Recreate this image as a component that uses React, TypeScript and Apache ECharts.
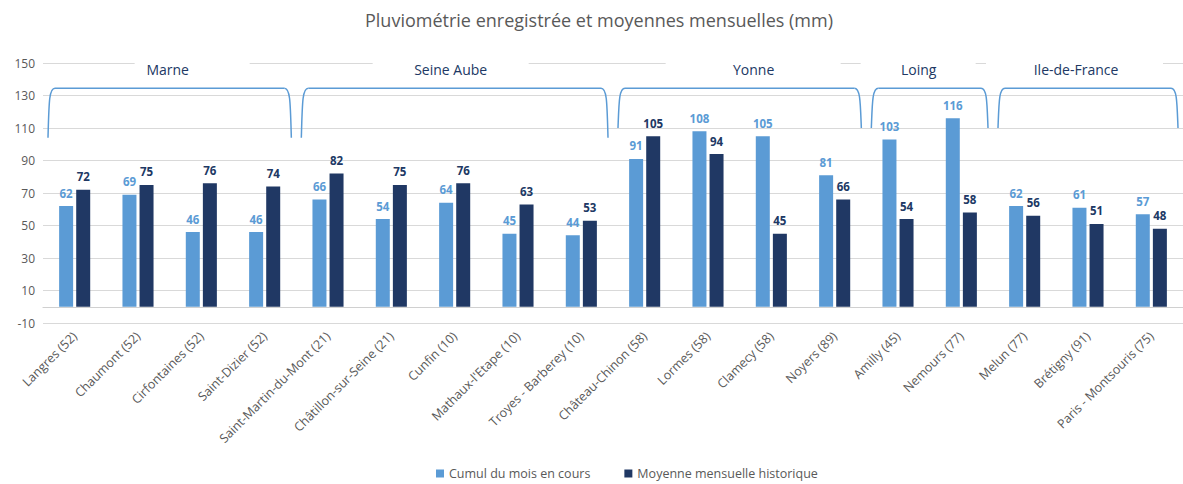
import React, { useEffect, useRef } from "react";
import * as echarts from "echarts";

const categories = [
  "Langres (52)",
  "Chaumont (52)",
  "Cirfontaines (52)",
  "Saint-Dizier (52)",
  "Saint-Martin-du-Mont (21)",
  "Châtillon-sur-Seine (21)",
  "Cunfin (10)",
  "Mathaux-l'Etape (10)",
  "Troyes - Barberey (10)",
  "Château-Chinon (58)",
  "Lormes (58)",
  "Clamecy (58)",
  "Noyers (89)",
  "Amilly (45)",
  "Nemours (77)",
  "Melun (77)",
  "Brétigny (91)",
  "Paris - Montsouris (75)",
];

const cumul = [62, 69, 46, 46, 66, 54, 64, 45, 44, 91, 108, 105, 81, 103, 116, 62, 61, 57];
const moyenne = [72, 75, 76, 74, 82, 75, 76, 63, 53, 105, 94, 45, 66, 54, 58, 56, 51, 48];

const groupNames = ["Marne", "Seine Aube", "Yonne", "Loing", "Ile-de-France"];
const groupSizes = [4, 5, 4, 2, 3];

const yTicks = { min: -10, max: 150, interval: 20 };

const TITLE = "Pluviométrie enregistrée et moyennes mensuelles (mm)";
const SERIES_NAMES = ["Cumul du mois en cours", "Moyenne mensuelle historique"];

// styling / annotation geometry (not data)
const LIGHT = "#5b9bd5";
const DARK = "#203864";
const GREY = "#595959";
const FONT = "'Open Sans', sans-serif";
const bracketTopValue = 134.5;
const bracketBottomValues = [104, 104, 110, 110, 110];
const bracketInset = 5;
const labelDx = [-2, -4, 14, -11, -12];
const labelBox = [[-33, 82], [-78, 78], [-88, 87], [-58, 57], [-90, 87]];

export default function App() {
  const ref = useRef<HTMLDivElement>(null);

  useEffect(() => {
    if (!ref.current) return;
    const chart = echarts.init(ref.current, null, { renderer: "svg" });
    chart.setOption({
      animation: false,
      textStyle: { fontFamily: FONT },
      title: {
        text: TITLE,
        left: 360,
        top: 6,
        textStyle: { fontFamily: FONT, fontSize: 18, fontWeight: "normal", color: GREY },
      },
      legend: {
        left: 436,
        top: 467,
        padding: 0,
        icon: "rect",
        itemWidth: 8,
        itemHeight: 8,
        itemGap: 34,
        textStyle: { fontFamily: FONT, fontSize: 12.5, color: GREY },
        data: SERIES_NAMES,
      },
      grid: { left: 43, right: -2, top: 63, bottom: 161, containLabel: false },
      xAxis: {
        type: "category",
        data: categories,
        axisLine: { show: true, onZero: true, lineStyle: { color: "#d0d0d0", width: 1.2 } },
        axisTick: { show: false },
        axisLabel: {
          interval: 0,
          rotate: 45,
          margin: 11,
          fontFamily: FONT,
          fontSize: 12.5,
          color: GREY,
        },
      },
      yAxis: {
        type: "value",
        min: yTicks.min,
        max: yTicks.max,
        interval: yTicks.interval,
        axisLine: { show: false },
        axisTick: { show: false },
        axisLabel: { fontFamily: FONT, fontSize: 12, color: GREY, margin: 8 },
        splitLine: { lineStyle: { color: "#d9d9d9", width: 1 } },
      },
      series: [
        {
          name: SERIES_NAMES[0],
          type: "bar",
          data: cumul,
          barWidth: 14,
          barGap: "22%",
          itemStyle: { color: LIGHT },
          label: {
            show: true,
            position: "top",
            distance: 7,
            color: LIGHT,
            fontFamily: FONT,
            fontSize: 11.5,
            fontWeight: "bold",
          },
        },
        {
          name: SERIES_NAMES[1],
          type: "bar",
          data: moyenne,
          barWidth: 14,
          barGap: "22%",
          itemStyle: { color: DARK },
          label: {
            show: true,
            position: "top",
            distance: 7,
            color: DARK,
            fontFamily: FONT,
            fontSize: 11.5,
            fontWeight: "bold",
          },
        },
      ],
    });

    // group brackets and labels computed from the axis scale
    const c0 = chart.convertToPixel({ xAxisIndex: 0 }, 0) as number;
    const c1 = chart.convertToPixel({ xAxisIndex: 0 }, 1) as number;
    const band = c1 - c0;
    const yTop = chart.convertToPixel({ yAxisIndex: 0 }, bracketTopValue) as number;
    const y150 = chart.convertToPixel({ yAxisIndex: 0 }, yTicks.max) as number;
    const elements: any[] = [];
    let start = 0;
    groupNames.forEach((name, gi) => {
      const end = start + groupSizes[gi] - 1;
      const x0 = (chart.convertToPixel({ xAxisIndex: 0 }, start) as number) - band / 2 + bracketInset;
      const x1 = (chart.convertToPixel({ xAxisIndex: 0 }, end) as number) + band / 2 - bracketInset;
      const yb = chart.convertToPixel({ yAxisIndex: 0 }, bracketBottomValues[gi]) as number;
      const style = { stroke: LIGHT, lineWidth: 1.5, fill: null };
      elements.push({
        type: "bezierCurve",
        shape: { x1: x0, y1: yb, x2: x0 + 7, y2: yTop, cpx1: x0 + 1, cpy1: yTop + 14, cpx2: x0 + 1, cpy2: yTop },
        style,
        silent: true,
      });
      elements.push({
        type: "line",
        shape: { x1: x0 + 7, y1: yTop, x2: x1 - 7, y2: yTop },
        style,
        silent: true,
      });
      elements.push({
        type: "bezierCurve",
        shape: { x1: x1, y1: yb, x2: x1 - 7, y2: yTop, cpx1: x1 - 1, cpy1: yTop + 14, cpx2: x1 - 1, cpy2: yTop },
        style,
        silent: true,
      });
      const cx = (x0 + x1) / 2 + labelDx[gi];
      const [a, b] = labelBox[gi];
      elements.push({
        type: "rect",
        shape: { x: cx + a, y: y150 - 3, width: b - a, height: 6 },
        style: { fill: "#ffffff" },
        silent: true,
      });
      elements.push({
        type: "text",
        x: cx,
        y: y150 + 6,
        style: {
          text: name,
          fill: DARK,
          font: `14px ${FONT}`,
          textAlign: "center",
          textVerticalAlign: "middle",
        },
        silent: true,
      });
      start = end + 1;
    });
    chart.setOption({ graphic: elements });

    return () => chart.dispose();
  }, []);

  return (
    <div
      ref={ref}
      style={{ position: "fixed", left: 0, top: 0, width: 1183, height: 484, background: "#fff" }}
    />
  );
}
